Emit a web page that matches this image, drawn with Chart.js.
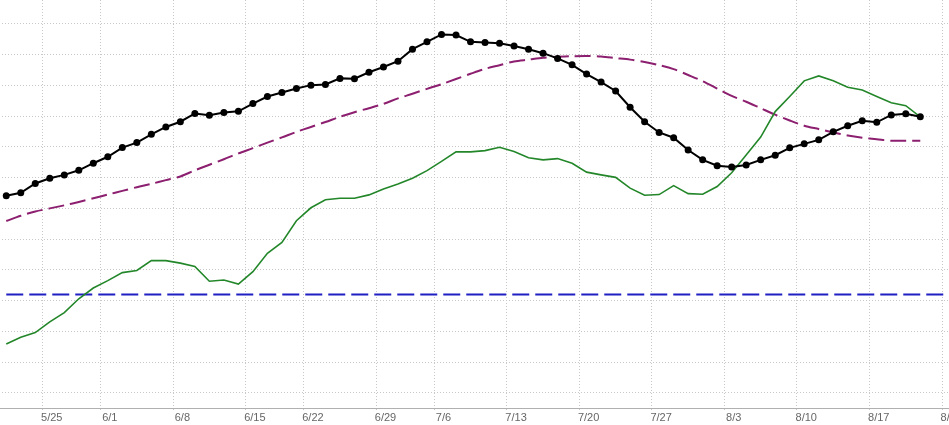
<!DOCTYPE html>
<html>
<head>
<meta charset="utf-8">
<script src="https://cdn.jsdelivr.net/npm/chart.js@4.4.1/dist/chart.umd.min.js"></script>
<style>
  html, body { margin: 0; padding: 0; background: #fff; overflow: hidden; }
  #wrap { position: absolute; left: -1px; top: 0; width: 961px; height: 425px; }
</style>
</head>
<body>
<div id="wrap"><canvas id="myChart"></canvas></div>
<script>
// trading days shown on the x axis (last two have no data yet)
const dates = ['5/20','5/21','5/22','5/26','5/27','5/28','5/29','6/1','6/2','6/3','6/4','6/5',
  '6/8','6/9','6/10','6/11','6/12','6/15','6/16','6/17','6/18','6/22','6/23','6/24','6/25','6/26',
  '6/29','6/30','7/1','7/2','7/6','7/7','7/8','7/9','7/10','7/13','7/14','7/15','7/16','7/17',
  '7/20','7/21','7/22','7/23','7/24','7/27','7/28','7/29','7/30','7/31','8/3','8/4','8/5','8/6','8/7',
  '8/10','8/11','8/12','8/13','8/14','8/17','8/18','8/19','8/20','8/21','8/24'];

// week labels and the day each one sits on
const weekStarts = ['5/26','6/1','6/8','6/15','6/22','6/29','7/6','7/13','7/20','7/27','8/3','8/10','8/17','8/24'];
const tickLabels = ['5/25','6/1','6/8','6/15','6/22','6/29','7/6','7/13','7/20','7/27','8/3','8/10','8/17','8/24'];

const blackValues = [64.1,65.1,68.1,69.8,70.9,72.4,74.7,76.8,79.8,81.4,84.1,86.5,88.2,90.9,90.3,91.2,91.6,
  94.1,96.4,97.7,99.0,100.1,100.3,102.3,102.2,104.3,106.0,107.9,111.8,114.2,116.6,116.4,114.2,114.0,
  113.7,112.8,111.8,110.5,108.8,106.7,103.7,101.1,98.2,92.9,88.2,84.7,83.0,79.0,75.8,73.9,73.5,74.1,
  75.8,77.3,79.7,81.0,82.3,84.9,86.9,88.5,88.0,90.4,90.8,89.8];

const greenValues = [15.9,18.1,19.6,23.1,26.1,30.6,34.1,36.5,39.1,39.8,43.0,43.0,42.2,41.1,36.3,36.7,35.4,
  39.4,45.4,48.9,56.0,60.2,62.8,63.3,63.3,64.4,66.3,67.9,69.8,72.3,75.3,78.4,78.4,78.8,79.9,78.5,76.5,
  75.8,76.2,74.7,71.8,70.9,70.1,66.6,64.3,64.5,67.4,64.8,64.6,67.1,71.6,77.4,83.2,91.5,96.4,101.5,
  103.1,101.5,99.4,98.5,96.4,94.4,93.4,89.8];

const purpleValues = [55.9,57.6,59.0,60.0,61.0,62.1,63.3,64.5,65.7,66.9,68.0,69.2,70.4,72.4,74.2,76.0,77.9,
  79.6,81.4,83.1,84.9,86.5,88.1,89.8,91.3,92.6,94.0,95.8,97.3,98.9,100.4,102.1,103.8,105.4,106.6,107.8,
  108.4,109.0,109.3,109.5,109.6,109.4,108.9,108.4,107.6,106.6,105.3,103.4,101.4,99.0,96.6,94.7,92.6,
  90.5,88.6,86.9,85.8,84.7,83.7,83.0,82.5,82.0,82.0,82.0];

const blueLevel = 32;
const blueValues = dates.map(() => blueLevel);

const gridColor = '#c8c8c8';

function weekLabel(i) {
  const k = weekStarts.indexOf(dates[i]);
  return k >= 0 ? tickLabels[k] : '';
}

new Chart('myChart', {
  type: 'line',
  data: {
    labels: dates,
    datasets: [{
      data: blackValues,
      borderColor: '#000000',
      backgroundColor: '#000000',
      borderWidth: 2,
      pointRadius: 3.5,
      pointBackgroundColor: '#000000',
      pointBorderWidth: 0,
      tension: 0
    }, {
      data: greenValues,
      borderColor: '#23872a',
      borderWidth: 1.6,
      pointRadius: 0,
      tension: 0
    }, {
      data: purpleValues,
      borderColor: '#8c1f6f',
      borderWidth: 2,
      borderDash: [16, 6],
      pointRadius: 0,
      tension: 0.3
    }, {
      data: blueValues,
      borderColor: '#1f1fc4',
      borderWidth: 2,
      borderDash: [17, 6],
      pointRadius: 0,
      tension: 0
    }]
  },
  options: {
    responsive: true,
    maintainAspectRatio: false,
    animation: false,
    layout: { padding: 0, autoPadding: false },
    plugins: {
      legend: { display: false },
      tooltip: { enabled: false }
    },
    scales: {
      x: {
        offset: true,
        grid: {
          offset: true,
          color: (ctx) => (ctx.tick && ctx.tick.label !== '') ? gridColor : 'rgba(0,0,0,0)',
          lineWidth: 1,
          drawTicks: true,
          tickLength: 3,
          tickBorderDash: [1, 2]
        },
        border: { display: true, color: '#b0b0b0', width: 1, dash: [1, 2] },
        ticks: {
          autoSkip: false,
          maxRotation: 0,
          minRotation: 0,
          padding: 0,
          labelOffset: 2,
          color: '#666666',
          font: { family: 'Liberation Sans, Arial, sans-serif', size: 11 },
          callback: (value, index) => weekLabel(index)
        }
      },
      y: {
        min: -5.2,
        max: 127.8,
        grid: { color: gridColor, drawTicks: false },
        border: { display: false, dash: [1, 2] },
        ticks: { display: false, stepSize: 10, includeBounds: false }
      }
    }
  }
});
</script>
</body>
</html>
